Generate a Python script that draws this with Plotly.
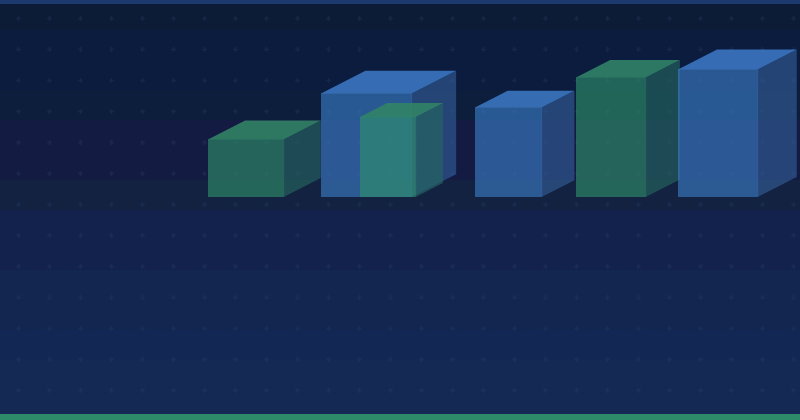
import numpy as np
import plotly.graph_objects as go

# background stripes, top to bottom (pixel edges of the 420px page)
band_edges = [0, 4, 30, 90, 120, 180, 210, 270, 330, 360, 414, 420]
band_colors = ['#1c3a6e', '#0d1c36', '#0b1c3e', '#0c1e3b', '#141b43', '#132241',
               '#13224c', '#13264f', '#132754', '#142a55', '#2e8b6a']

# bars in drawing order
bar_kind = ['green', 'blue', 'green', 'blue', 'green', 'blue']
bar_start = [208, 321, 360, 475, 576, 678]
bar_end = [283.7, 411.7, 415.7, 541.7, 645.7, 757.7]
bar_height = [57.5, 103.5, 80, 89.5, 119.5, 127.5]

front = {'blue': 'rgba(60,126,200,0.62)', 'green': 'rgba(47,146,106,0.62)'}
side = {'blue': 'rgba(52,93,154,0.62)', 'green': 'rgba(37,104,97,0.62)'}
top = {'blue': 'rgba(59,118,192,0.9)', 'green': 'rgba(49,131,102,0.9)'}
edge = {'blue': 'rgba(70,130,205,0.35)', 'green': 'rgba(55,140,110,0.35)'}


def face(xs, ys, color):
    return go.Scatter(x=xs, y=ys, mode='lines', fill='toself', fillcolor=color,
                      line=dict(color='rgba(0,0,0,0)', width=0),
                      hoverinfo='skip', showlegend=False)


fig = go.Figure()

# faint cross pattern behind everything
grid_x = np.arange(18.5, 800, 31)
grid_y = 197 - np.arange(18.5, 414, 31)
gx, gy = np.meshgrid(grid_x, grid_y)
fig.add_trace(go.Scatter(x=gx.ravel(), y=gy.ravel(), mode='markers',
                         marker=dict(symbol='cross', size=4, color='rgba(45,75,125,0.25)', line_width=0),
                         hoverinfo='skip', showlegend=False))

for kind, x0, x1, h in zip(bar_kind, bar_start, bar_end, bar_height):
    dx = (x1 - x0) * 0.49
    dy = (x1 - x0) * 0.25
    fig.add_trace(face([x1, x1 + dx, x1 + dx, x1, x1], [0, dy, h + dy, h, 0], side[kind]))
    fig.add_trace(face([x0, x1, x1 + dx, x0 + dx, x0], [h, h, h + dy, h + dy, h], top[kind]))
    fig.add_trace(face([x0, x1, x1, x0, x0], [0, 0, h, h, 0], front[kind]))
    fig.add_trace(go.Scatter(x=[x0, x1, x1], y=[h, h, 0], mode='lines',
                             line=dict(color=edge[kind], width=1),
                             hoverinfo='skip', showlegend=False))

shapes = []
for i, color in enumerate(band_colors):
    shapes.append(dict(type='rect', xref='paper', yref='paper', x0=0, x1=1,
                       y0=1 - band_edges[i + 1] / 420, y1=1 - band_edges[i] / 420,
                       fillcolor=color, line_width=0, layer='below'))

fig.update_layout(width=800, height=420, margin=dict(l=0, r=0, t=0, b=0),
                  paper_bgcolor='#0b1c3e', plot_bgcolor='rgba(0,0,0,0)',
                  shapes=shapes, showlegend=False,
                  xaxis=dict(range=[0, 800], visible=False, fixedrange=True),
                  yaxis=dict(range=[197 - 420, 197], visible=False, fixedrange=True))

fig.write_html("out.html", config={'displayModeBar': False},
               post_script="document.body.style.margin='0';")
